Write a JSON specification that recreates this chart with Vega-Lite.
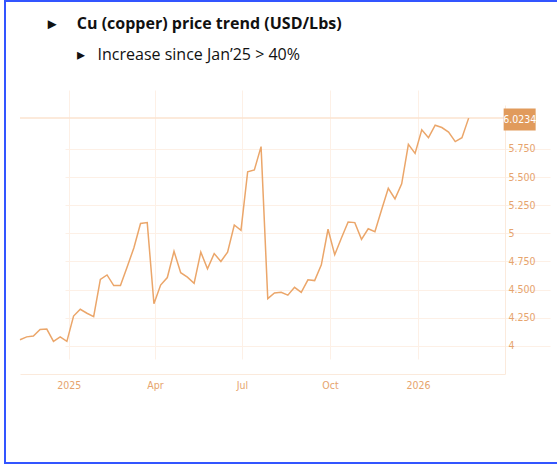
{
  "$schema": "https://vega.github.io/schema/vega-lite/v6.json",
  "width": 560,
  "height": 462,
  "autosize": {"type": "none"},
  "padding": {"left": 5, "top": 1, "right": 0, "bottom": 2},
  "background": "white",
  "config": {
    "view": {"stroke": "#3355ff", "strokeWidth": 2, "strokeDash": [560, 462, 1022]}
  },
  "title": {
    "text": "▸\u00a0\u00a0\u00a0\u00a0\u00a0Cu (copper) price trend (USD/Lbs)",
    "subtitle": "\u200b\u00a0\u00a0\u00a0\u00a0\u00a0\u00a0\u00a0▸\u00a0\u00a0\u00a0Increase since Jan’25 > 40%",
    "anchor": "start",
    "frame": "group",
    "dx": 43,
    "offset": -62,
    "font": "Open Sans",
    "fontSize": 16,
    "fontWeight": "bold",
    "color": "#111111",
    "subtitleFont": "Open Sans",
    "subtitleFontSize": 16,
    "subtitleColor": "#111111",
    "subtitlePadding": 15
  },
  "datasets": {
    "cu": [
      {"date": "2024-11-11", "price": 4.054},
      {"date": "2024-11-18", "price": 4.08},
      {"date": "2024-11-25", "price": 4.087},
      {"date": "2024-12-02", "price": 4.146},
      {"date": "2024-12-09", "price": 4.149},
      {"date": "2024-12-16", "price": 4.04},
      {"date": "2024-12-23", "price": 4.08},
      {"date": "2024-12-30", "price": 4.04},
      {"date": "2025-01-06", "price": 4.265},
      {"date": "2025-01-13", "price": 4.325},
      {"date": "2025-01-20", "price": 4.29},
      {"date": "2025-01-27", "price": 4.26},
      {"date": "2025-02-03", "price": 4.59},
      {"date": "2025-02-10", "price": 4.63},
      {"date": "2025-02-17", "price": 4.536},
      {"date": "2025-02-24", "price": 4.536},
      {"date": "2025-03-03", "price": 4.70},
      {"date": "2025-03-10", "price": 4.87},
      {"date": "2025-03-17", "price": 5.087},
      {"date": "2025-03-24", "price": 5.095},
      {"date": "2025-03-31", "price": 4.375},
      {"date": "2025-04-07", "price": 4.54},
      {"date": "2025-04-14", "price": 4.607},
      {"date": "2025-04-21", "price": 4.84},
      {"date": "2025-04-28", "price": 4.65},
      {"date": "2025-05-05", "price": 4.61},
      {"date": "2025-05-12", "price": 4.556},
      {"date": "2025-05-19", "price": 4.833},
      {"date": "2025-05-26", "price": 4.685},
      {"date": "2025-06-02", "price": 4.82},
      {"date": "2025-06-09", "price": 4.75},
      {"date": "2025-06-16", "price": 4.833},
      {"date": "2025-06-23", "price": 5.074},
      {"date": "2025-06-30", "price": 5.027},
      {"date": "2025-07-07", "price": 5.547},
      {"date": "2025-07-14", "price": 5.5625},
      {"date": "2025-07-21", "price": 5.77},
      {"date": "2025-07-28", "price": 4.42},
      {"date": "2025-08-04", "price": 4.47},
      {"date": "2025-08-11", "price": 4.476},
      {"date": "2025-08-18", "price": 4.45},
      {"date": "2025-08-25", "price": 4.52},
      {"date": "2025-09-01", "price": 4.476},
      {"date": "2025-09-08", "price": 4.587},
      {"date": "2025-09-15", "price": 4.58},
      {"date": "2025-09-22", "price": 4.72},
      {"date": "2025-09-29", "price": 5.036},
      {"date": "2025-10-06", "price": 4.81},
      {"date": "2025-10-13", "price": 4.958},
      {"date": "2025-10-20", "price": 5.10},
      {"date": "2025-10-27", "price": 5.095},
      {"date": "2025-11-03", "price": 4.946},
      {"date": "2025-11-10", "price": 5.04},
      {"date": "2025-11-17", "price": 5.015},
      {"date": "2025-11-24", "price": 5.21},
      {"date": "2025-12-01", "price": 5.40},
      {"date": "2025-12-08", "price": 5.306},
      {"date": "2025-12-15", "price": 5.44},
      {"date": "2025-12-22", "price": 5.79},
      {"date": "2025-12-29", "price": 5.71},
      {"date": "2026-01-05", "price": 5.92},
      {"date": "2026-01-12", "price": 5.85},
      {"date": "2026-01-19", "price": 5.96},
      {"date": "2026-01-26", "price": 5.94},
      {"date": "2026-02-02", "price": 5.90},
      {"date": "2026-02-09", "price": 5.815},
      {"date": "2026-02-16", "price": 5.85},
      {"date": "2026-02-23", "price": 6.0234}
    ],
    "last": [
      {"date": "2026-02-23", "price": 6.0234, "label": "6.0234"}
    ]
  },
  "layer": [
    {
      "data": {"name": "last"},
      "mark": {"type": "rule", "color": "#fbe3cf", "strokeWidth": 1.5},
      "encoding": {
        "y": {"field": "price", "type": "quantitative"},
        "x": {"datum": {"year": 2024, "month": 11, "date": 11, "utc": true}, "type": "temporal"},
        "x2": {"datum": {"year": 2026, "month": 4, "date": 2, "utc": true}}
      }
    },
    {
      "data": {"name": "cu"},
      "mark": {"type": "line", "color": "#eba66a", "strokeWidth": 1.5},
      "encoding": {
        "x": {
          "field": "date",
          "type": "temporal",
          "scale": {
            "type": "utc",
            "domain": [{"year": 2024, "month": 11, "date": 11, "utc": true}, {"year": 2026, "month": 4, "date": 2, "utc": true}],
            "range": [15, 500]
          },
          "axis": {
            "title": null,
            "orient": "bottom",
            "offset": -89,
            "values": [
              {"year": 2025, "month": 1, "date": 1, "utc": true},
              {"year": 2025, "month": 4, "date": 1, "utc": true},
              {"year": 2025, "month": 7, "date": 1, "utc": true},
              {"year": 2025, "month": 10, "date": 1, "utc": true},
              {"year": 2026, "month": 1, "date": 1, "utc": true}
            ],
            "labelExpr": "utcmonth(datum.value) == 0 ? utcFormat(datum.value, '%Y') : utcFormat(datum.value, '%b')",
            "grid": true,
            "gridColor": "#fdf0e6",
            "gridWidth": 1,
            "domain": true,
            "domainColor": "#fbeadc",
            "ticks": false,
            "labelFlush": false,
            "labelColor": "#e6a46d",
            "labelFont": "Liberation Sans Narrow, DejaVu Sans Condensed, sans-serif",
            "labelFontSize": 10.5,
            "labelPadding": 6
          }
        },
        "y": {
          "field": "price",
          "type": "quantitative",
          "scale": {"domain": [3.75, 6.14], "range": [373, 104], "zero": false, "nice": false},
          "axis": {
            "title": null,
            "orient": "right",
            "offset": -60,
            "values": [4, 4.25, 4.5, 4.75, 5, 5.25, 5.5, 5.75],
            "labelExpr": "datum.value == 4 || datum.value == 5 ? format(datum.value, 'd') : format(datum.value, '.3f')",
            "grid": true,
            "gridColor": "#fdf0e6",
            "domain": true,
            "domainColor": "#fbeadc",
            "ticks": false,
            "labelColor": "#e6a46d",
            "labelFont": "Liberation Sans Narrow, DejaVu Sans Condensed, sans-serif",
            "labelFontSize": 10.5,
            "labelPadding": 3
          }
        }
      }
    },
    {
      "data": {"name": "last"},
      "mark": {"type": "point", "shape": "M-1,-0.6875H1V0.6875H-1Z", "filled": true, "opacity": 1, "color": "#e19b5c", "size": 1024, "xOffset": 51, "yOffset": 1.5},
      "encoding": {
        "x": {"field": "date", "type": "temporal"},
        "y": {"field": "price", "type": "quantitative"}
      }
    },
    {
      "data": {"name": "last"},
      "mark": {"type": "text", "color": "white", "dx": 51, "dy": 1.5, "align": "center", "baseline": "middle", "font": "Liberation Sans Narrow, DejaVu Sans Condensed, sans-serif", "fontSize": 10.5},
      "encoding": {
        "x": {"field": "date", "type": "temporal"},
        "y": {"field": "price", "type": "quantitative"},
        "text": {"field": "label"}
      }
    }
  ]
}
